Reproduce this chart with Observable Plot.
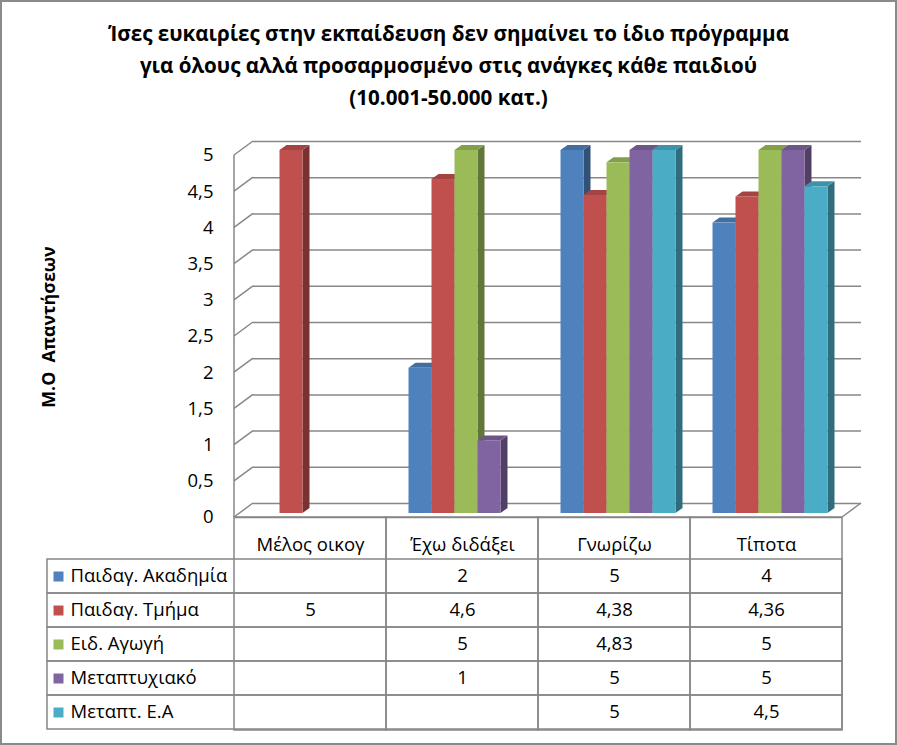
<!DOCTYPE html>
<html>
<head>
<meta charset="utf-8">
<script src="https://cdn.jsdelivr.net/npm/d3@7"></script>
<script src="https://cdn.jsdelivr.net/npm/@observablehq/plot@0.6"></script>
<style>
  html, body { margin: 0; padding: 0; background: #ffffff; }
  #page { position: relative; width: 897px; height: 745px; overflow: hidden; font-family: "Open Sans", "Noto Sans", sans-serif; color: #000; }
  #border { position: absolute; left: 0; top: 0; width: 897px; height: 745px; box-sizing: border-box; border: 2px solid #8a8a8a; pointer-events: none; }
  #title { position: absolute; left: 0; top: 17px; width: 897px; text-align: center; font-weight: bold; font-size: 20.6px; line-height: 32px; }
  #ylabel { position: absolute; left: 48px; top: 327px; transform: translate(-50%, -50%) rotate(-90deg); font-weight: bold; font-size: 17.8px; white-space: pre; }
  .layer { position: absolute; left: 0; }
  .layer svg { display: block; }
  g[aria-description="side"] rect { transform-box: fill-box; transform-origin: 0% 100%; transform: skewY(-35.54deg); }
  g[aria-description="top"] rect { transform-box: fill-box; transform-origin: 0% 100%; transform: skewX(-54.46deg); }
</style>
</head>
<body>
<div id="page">
  <div id="title"></div>
  <div id="ylabel"></div>
  <div id="bg" class="layer" style="top:120px"></div>
  <div id="bars" class="layer" style="top:120px"></div>
  <div id="table" class="layer" style="top:517px"></div>
  <div id="border"></div>
</div>
<script>
// ---------- data ----------
const titleLines = [
  "Ίσες ευκαιρίες στην εκπαίδευση δεν σημαίνει το ίδιο πρόγραμμα",
  "για όλους αλλά προσαρμοσμένο στις ανάγκες κάθε παιδιού",
  "(10.001-50.000 κατ.)"
];
const yAxisTitle = "Μ.Ο  Απαντήσεων";
const categories = ["Μέλος οικογ", "Έχω διδάξει", "Γνωρίζω", "Τίποτα"];
const series = ["Παιδαγ. Ακαδημία", "Παιδαγ. Τμήμα", "Ειδ. Αγωγή", "Μεταπτυχιακό", "Μεταπτ. Ε.Α"];
const akadimiaValues = [null, 2, 5, 4];
const tmimaValues = [5, 4.6, 4.38, 4.36];
const eidAgogiValues = [null, 5, 4.83, 5];
const metaptyxiakoValues = [null, 1, 5, 5];
const metaptEAValues = [null, null, 5, 4.5];
const seriesColors = ["#4F81BD", "#C0504D", "#9BBB59", "#8064A2", "#4BACC6"];
const yTicks = [0, 0.5, 1, 1.5, 2, 2.5, 3, 3.5, 4, 4.5, 5];
const yTickLabels = ["0", "0,5", "1", "1,5", "2", "2,5", "3", "3,5", "4", "4,5", "5"];

// ---------- derived tables ----------
const seriesValues = [akadimiaValues, tmimaValues, eidAgogiValues, metaptyxiakoValues, metaptEAValues];
const rows = [];
series.forEach((s, j) => categories.forEach((c, i) => {
  const v = seriesValues[j][i];
  if (v != null) rows.push({series: s, category: c, value: v});
}));
const colorOf = Object.fromEntries(series.map((s, j) => [s, seriesColors[j]]));
const topOf = s => d3.color(colorOf[s]).darker(0.45).formatHex();
const sideOf = s => d3.color(colorOf[s]).darker(1.3).formatHex();
const fmt = v => String(v).replace(".", ",");

const FONT = '"Open Sans", "Noto Sans", sans-serif';
const GRID = "#878787";
const depthX = 19, depthY = 14;

document.getElementById("title").innerHTML = titleLines.map(t => `<div>${t}</div>`).join("");
document.getElementById("ylabel").textContent = yAxisTitle;

// ---------- background: walls, gridlines, y axis ----------
function wallEdges(index, scales, values, dims) {
  const g = d3.create("svg:g").attr("stroke", GRID).attr("stroke-width", 1.5).attr("fill", "none");
  const xl = dims.marginLeft, xr = dims.width - dims.marginRight;
  const y = scales.y;
  for (const t of yTicks) {
    g.append("line").attr("x1", xl).attr("y1", y(t)).attr("x2", xl + depthX).attr("y2", y(t) - depthY);
  }
  g.append("line").attr("x1", xr).attr("y1", y(0)).attr("x2", xr + depthX).attr("y2", y(0) - depthY);
  g.append("line").attr("x1", xl).attr("x2", xl).attr("y1", y(d3.max(yTicks))).attr("y2", y(0));
  return g.node();
}

const bg = Plot.plot({
  width: 897, height: 400,
  marginLeft: 234, marginRight: 55, marginTop: 35, marginBottom: 3,
  style: {background: "transparent", fontFamily: FONT, fontSize: "18.5px", color: "#000", overflow: "visible"},
  y: {domain: [0, 5], ticks: yTicks, tickFormat: d => yTickLabels[yTicks.indexOf(d)], tickSize: 0, tickPadding: 21, label: null},
  marks: [
    Plot.ruleY(yTicks, {dx: depthX, dy: -depthY, stroke: GRID, strokeWidth: 1.5}),
    Plot.ruleY([0], {stroke: GRID, strokeWidth: 1.5}),
    wallEdges
  ]
});
document.getElementById("bg").appendChild(bg);

// ---------- bars (3D look) ----------
const bars = Plot.plot({
  width: 897, height: 400,
  marginLeft: 237.5, marginRight: 51.5, marginTop: 30, marginBottom: 7,
  style: {background: "transparent", overflow: "visible"},
  facet: {data: rows, x: "category"},
  fx: {domain: categories, paddingInner: 37 / 152, paddingOuter: 18.5 / 152, axis: null, label: null},
  x: {domain: series, padding: 0, axis: null},
  y: {domain: [0, 5], axis: null},
  color: {type: "identity"},
  marks: [
    Plot.barY(rows, {x: "series", y: "value", fill: d => sideOf(d.series), insetLeft: 16, dx: 7, ariaDescription: "side"}),
    Plot.barY(rows, {x: "series", y1: "value", y2: "value", insetTop: -5, fill: d => topOf(d.series), ariaDescription: "top"}),
    Plot.barY(rows, {x: "series", y: "value", fill: d => colorOf[d.series]})
  ]
});
document.getElementById("bars").appendChild(bars);

// ---------- data table ----------
const table = Plot.plot({
  width: 897, height: 216,
  marginLeft: 47, marginRight: 55, marginTop: 0, marginBottom: 3,
  style: {background: "transparent", fontFamily: FONT, fontSize: "18.5px", color: "#000", overflow: "visible"},
  x: {domain: categories, range: [234, 842], padding: 0, axis: null},
  y: {domain: series, range: [40, 213], padding: 0, axis: null},
  color: {type: "identity"},
  marks: [
    Plot.cell(series, {y: d => d, fill: "none", stroke: GRID, strokeWidth: 1.5}),
    Plot.cell(categories, {x: d => d, fill: "none", stroke: GRID, strokeWidth: 1.5}),
    Plot.text(categories, {x: d => d, text: d => d, frameAnchor: "top", lineAnchor: "middle", dy: 28, fill: "#000"}),
    Plot.text(rows, {x: "category", y: "series", text: d => fmt(d.value), fill: "#000"}),
    Plot.dot(series, {y: d => d, frameAnchor: "left", dx: 11, symbol: "square", r: 5.64, fill: d => colorOf[d]}),
    Plot.text(series, {y: d => d, text: d => d, frameAnchor: "left", textAnchor: "start", dx: 23, fill: "#000"})
  ]
});
document.getElementById("table").appendChild(table);
</script>
</body>
</html>
